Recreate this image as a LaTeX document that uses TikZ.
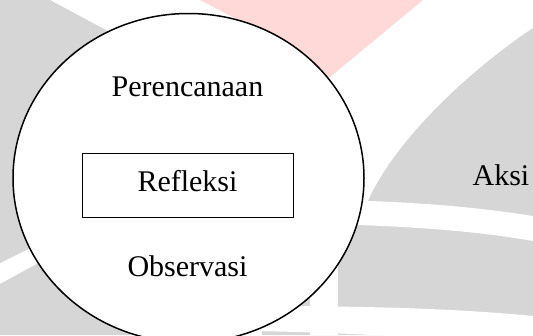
\documentclass[tikz,border=0pt]{standalone}
\usepackage{fontspec}
\setmainfont{Liberation Serif}
\usetikzlibrary{shapes.geometric}
\definecolor{wmgrey}{RGB}{214,214,214}
\definecolor{wmpink}{RGB}{255,217,215}
\tikzset{
  wm/.style={fill=wmgrey, draw=none},
  wmgap/.style={fill=white, draw=none},
  txt/.style={font=\fontsize{30}{36}\selectfont, inner sep=0pt, anchor=base},
  cyclering/.style={draw, ellipse, fill=white, line width=1.5pt, inner sep=0pt,
                    minimum width=351pt, minimum height=329pt},
  framebox/.style={draw, line width=1.3pt, inner sep=0pt,
                   minimum width=210.6pt, minimum height=64.4pt}
}
\begin{document}
\begin{tikzpicture}[x=1pt,y=-1pt]
  \useasboundingbox (0,0) rectangle (533,335);
  \fill[white] (0,0) rectangle (533,335);

  % background emblem: grey arcs and pink wedge
  \path[wm] (0,0) -- (50,0) -- (130,43) -- (130,199) -- (0,263) -- cycle;
  \path[wm] (0,284) -- (130,213) -- (130,335) -- (0,335) -- cycle;
  \path[fill=wmpink] (200,0) -- (423,0) -- (318,87) -- (290,90) -- (255,29) -- cycle;
  \path[wm] (533,28) .. controls (470,70) and (395,140) .. (368,201)
            -- (262,201) -- (262,335) -- (533,335) -- cycle;
  \path[wmgap] (280,199) .. controls (400,200) and (470,206) .. (533,216)
               -- (533,241) .. controls (470,230) and (400,225) .. (280,223) -- cycle;
  \path[wmgap] (310,222) rectangle (338,335);
  \path[wmgap] (250,306) .. controls (380,306) and (460,309) .. (533,316)
               -- (533,352) .. controls (460,340) and (380,333) .. (250,331) -- cycle;

  % cycle diagram
  \node[cyclering] (cyc) at (188.5,178) {};
  \node[framebox] (refbox) at (188,185.5) {};
  \node[txt] (plan) at (187.5,96.7) {Perencanaan};
  \node[txt] (refl) at (187.5,191.7) {Refleksi};
  \node[txt] (obs) at (187.5,276.7) {Observasi};
  \node[txt] (act) at (501,185) {Aksi};
\end{tikzpicture}
\end{document}
